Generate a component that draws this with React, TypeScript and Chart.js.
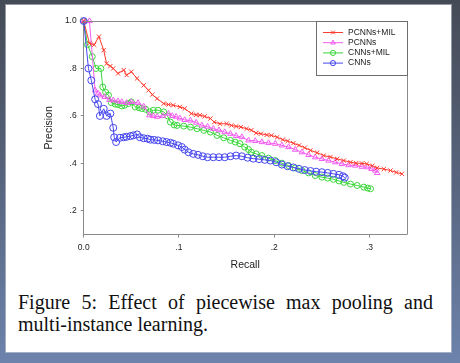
import React, { useEffect, useRef } from 'react';
import { Chart, registerables } from 'chart.js';

Chart.register(...registerables);

// ---------- data ----------
const seriesNames = ['PCNNs+MIL', 'PCNNs', 'CNNs+MIL', 'CNNs'];

const pcnnsMilRecall = [0, 0.006, 0.011, 0.016, 0.021, 0.024, 0.028, 0.031, 0.036, 0.042, 0.045, 0.05, 0.056, 0.063, 0.068, 0.072, 0.077, 0.084, 0.089, 0.094, 0.101, 0.106, 0.113, 0.118, 0.122, 0.127, 0.133, 0.137, 0.143, 0.15, 0.155, 0.16, 0.165, 0.171, 0.176, 0.181, 0.186, 0.192, 0.197, 0.203, 0.209, 0.214, 0.22, 0.226, 0.232, 0.238, 0.245, 0.252, 0.259, 0.266, 0.273, 0.28, 0.286, 0.292, 0.297, 0.303, 0.308, 0.315, 0.322, 0.328, 0.334];
const pcnnsMilPrecision = [1.0, 0.906, 0.9, 0.934, 0.877, 0.82, 0.81, 0.8, 0.779, 0.793, 0.772, 0.786, 0.758, 0.729, 0.708, 0.69, 0.673, 0.652, 0.648, 0.645, 0.638, 0.631, 0.61, 0.605, 0.603, 0.598, 0.589, 0.574, 0.567, 0.567, 0.56, 0.556, 0.553, 0.546, 0.54, 0.528, 0.525, 0.52, 0.518, 0.51, 0.5, 0.494, 0.485, 0.476, 0.466, 0.455, 0.445, 0.433, 0.427, 0.419, 0.412, 0.405, 0.401, 0.4, 0.398, 0.39, 0.381, 0.376, 0.37, 0.362, 0.356];

const pcnnsRecall = [0, 0.006, 0.012, 0.015, 0.017, 0.022, 0.027, 0.031, 0.036, 0.04, 0.045, 0.05, 0.057, 0.063, 0.069, 0.073, 0.077, 0.083, 0.089, 0.093, 0.097, 0.101, 0.106, 0.112, 0.118, 0.124, 0.13, 0.136, 0.142, 0.148, 0.154, 0.16, 0.166, 0.173, 0.18, 0.187, 0.194, 0.201, 0.208, 0.215, 0.222, 0.229, 0.236, 0.243, 0.25, 0.257, 0.264, 0.271, 0.278, 0.285, 0.292, 0.298, 0.302, 0.306, 0.308];
const pcnnsPrecision = [1.0, 1.0, 0.708, 0.695, 0.687, 0.68, 0.668, 0.666, 0.662, 0.659, 0.655, 0.659, 0.655, 0.64, 0.603, 0.6, 0.597, 0.6, 0.61, 0.6, 0.597, 0.59, 0.583, 0.581, 0.572, 0.56, 0.555, 0.546, 0.54, 0.532, 0.525, 0.516, 0.511, 0.497, 0.495, 0.49, 0.486, 0.483, 0.476, 0.469, 0.458, 0.447, 0.436, 0.426, 0.419, 0.412, 0.405, 0.398, 0.393, 0.391, 0.386, 0.384, 0.377, 0.37, 0.36];

const cnnsMilRecall = [0, 0.004, 0.009, 0.013, 0.018, 0.02, 0.023, 0.026, 0.029, 0.033, 0.036, 0.04, 0.043, 0.047, 0.05, 0.054, 0.058, 0.061, 0.065, 0.069, 0.073, 0.078, 0.084, 0.088, 0.091, 0.095, 0.098, 0.105, 0.112, 0.119, 0.126, 0.133, 0.14, 0.147, 0.154, 0.159, 0.164, 0.169, 0.173, 0.176, 0.181, 0.187, 0.194, 0.201, 0.208, 0.215, 0.222, 0.229, 0.236, 0.243, 0.25, 0.256, 0.262, 0.268, 0.273, 0.28, 0.287, 0.294, 0.298, 0.301];
const cnnsMilPrecision = [1.0, 0.9, 0.85, 0.8, 0.8, 0.722, 0.7, 0.687, 0.656, 0.65, 0.648, 0.642, 0.645, 0.652, 0.659, 0.638, 0.635, 0.631, 0.628, 0.617, 0.624, 0.624, 0.617, 0.6, 0.574, 0.562, 0.56, 0.557, 0.553, 0.546, 0.539, 0.532, 0.518, 0.508, 0.497, 0.49, 0.483, 0.469, 0.458, 0.447, 0.44, 0.433, 0.422, 0.412, 0.401, 0.391, 0.381, 0.37, 0.36, 0.349, 0.342, 0.338, 0.333, 0.326, 0.32, 0.313, 0.307, 0.3, 0.296, 0.293];

const cnnsRecall = [0, 0.005, 0.008, 0.012, 0.015, 0.017, 0.021, 0.024, 0.028, 0.031, 0.032, 0.034, 0.038, 0.042, 0.045, 0.049, 0.052, 0.056, 0.059, 0.063, 0.067, 0.07, 0.074, 0.078, 0.083, 0.087, 0.091, 0.094, 0.099, 0.103, 0.106, 0.11, 0.115, 0.12, 0.125, 0.13, 0.136, 0.142, 0.148, 0.154, 0.16, 0.166, 0.172, 0.178, 0.184, 0.19, 0.196, 0.202, 0.208, 0.214, 0.22, 0.226, 0.232, 0.238, 0.244, 0.25, 0.256, 0.262, 0.268, 0.272, 0.274];
const cnnsPrecision = [1.0, 0.8, 0.75, 0.67, 0.65, 0.6, 0.63, 0.6, 0.61, 0.55, 0.51, 0.49, 0.508, 0.51, 0.512, 0.515, 0.518, 0.522, 0.51, 0.506, 0.504, 0.5, 0.499, 0.497, 0.493, 0.49, 0.487, 0.483, 0.476, 0.469, 0.458, 0.447, 0.44, 0.436, 0.43, 0.426, 0.426, 0.426, 0.426, 0.43, 0.433, 0.43, 0.424, 0.42, 0.418, 0.415, 0.412, 0.405, 0.395, 0.388, 0.383, 0.377, 0.372, 0.368, 0.365, 0.363, 0.36, 0.356, 0.352, 0.346, 0.34];

const xTickValues = [0, 0.1, 0.2, 0.3];
const xTickLabels = ['0.0', '.1', '.2', '.3'];
const yTickValues = [0.2, 0.4, 0.6, 0.8, 1.0];
const yTickLabels = ['.2', '.4', '.6', '.8', '1.0'];

const xTitle = 'Recall';
const yTitle = 'Precision';
const captionText = 'Figure 5: Effect of piecewise max pooling and multi-instance learning.';

// ---------- styles ----------
const colors = ['#ff3a2e', '#f25cf0', '#3ad63a', '#4646ee'];
const pointStyles = ['crossRot', 'triangle', 'circle', 'circle'];
const pointRadii = [3, 3.2, 3, 3.5];
const axisColor = '#8a8a8a';
const textColor = '#222';
const sansFont = "'Liberation Sans', Arial, sans-serif";

function drawMarker(ctx: CanvasRenderingContext2D, style: string, x: number, y: number, r: number) {
  ctx.beginPath();
  if (style === 'circle') {
    ctx.arc(x, y, r, 0, Math.PI * 2);
  } else if (style === 'triangle') {
    ctx.moveTo(x, y - r);
    ctx.lineTo(x - r * 0.866, y + r * 0.5);
    ctx.lineTo(x + r * 0.866, y + r * 0.5);
    ctx.closePath();
  } else {
    const d = r * 0.707;
    ctx.moveTo(x - d, y - d);
    ctx.lineTo(x + d, y + d);
    ctx.moveTo(x + d, y - d);
    ctx.lineTo(x - d, y + d);
  }
  ctx.stroke();
}

const framePlugin = {
  id: 'frameAndLegend',
  afterDraw(chart: any) {
    const { ctx, chartArea } = chart;
    const { left, right, top, bottom } = chartArea;
    ctx.save();
    ctx.strokeStyle = axisColor;
    ctx.lineWidth = 1;
    ctx.beginPath();
    ctx.moveTo(left, Math.round(top) + 0.5);
    ctx.lineTo(right, Math.round(top) + 0.5);
    ctx.moveTo(Math.round(right) + 0.5, top);
    ctx.lineTo(Math.round(right) + 0.5, bottom);
    ctx.stroke();

    // legend box
    const bw = 91;
    const bh = 54;
    const bx = Math.round(right) - bw;
    const by = Math.round(top);
    ctx.fillStyle = '#ffffff';
    ctx.fillRect(bx, by, bw, bh);
    ctx.strokeStyle = '#6e6e6e';
    ctx.strokeRect(bx + 0.5, by + 0.5, bw, bh);

    ctx.font = `8.5px ${sansFont}`;
    ctx.textBaseline = 'middle';
    ctx.textAlign = 'left';
    chart.data.datasets.forEach((ds: any, i: number) => {
      const y = by + 11.5 + i * 10.2;
      ctx.strokeStyle = colors[i];
      ctx.lineWidth = 1;
      ctx.beginPath();
      ctx.moveTo(bx + 7, y);
      ctx.lineTo(bx + 27, y);
      ctx.stroke();
      drawMarker(ctx, pointStyles[i], bx + 17, y, 2.6);
      ctx.fillStyle = textColor;
      ctx.fillText(ds.label, bx + 32, y);
    });
    ctx.restore();
  },
};

function labelFor(values: number[], labels: string[], v: number) {
  const idx = values.findIndex((t) => Math.abs(t - v) < 1e-6);
  return idx >= 0 ? labels[idx] : '';
}

export default function App() {
  const canvasRef = useRef<HTMLCanvasElement | null>(null);

  useEffect(() => {
    const canvas = canvasRef.current;
    if (!canvas) return;
    const recalls = [pcnnsMilRecall, pcnnsRecall, cnnsMilRecall, cnnsRecall];
    const precisions = [pcnnsMilPrecision, pcnnsPrecision, cnnsMilPrecision, cnnsPrecision];
    const datasets = seriesNames.map((name, i) => ({
      label: name,
      data: recalls[i].map((x, j) => ({ x, y: precisions[i][j] })),
      borderColor: colors[i],
      backgroundColor: 'rgba(255,255,255,0)',
      borderWidth: 1,
      pointStyle: pointStyles[i],
      pointRadius: pointRadii[i],
      pointBorderWidth: 1,
      pointBorderColor: colors[i],
      pointBackgroundColor: 'rgba(255,255,255,0)',
      tension: 0,
      fill: false,
      clip: 6,
      order: i === 3 ? -1 : i,
    }));

    const chart = new Chart(canvas, {
      type: 'line',
      data: { datasets },
      plugins: [framePlugin],
      options: {
        animation: false,
        responsive: false,
        maintainAspectRatio: false,
        devicePixelRatio: 1,
        layout: { padding: { left: 40, top: 21, right: 53.3, bottom: 5.4 } },
        plugins: {
          legend: { display: false },
          tooltip: { enabled: false },
        },
        scales: {
          x: {
            type: 'linear',
            min: 0,
            max: 0.339,
            afterBuildTicks: (axis: any) => {
              axis.ticks = xTickValues.map((v) => ({ value: v }));
            },
            afterFit: (axis: any) => {
              axis.height = 40;
            },
            ticks: {
              autoSkip: false,
              maxRotation: 0,
              padding: 5,
              color: textColor,
              font: { family: sansFont, size: 8.5 },
              callback: (v: any) => labelFor(xTickValues, xTickLabels, Number(v)),
            },
            grid: { drawOnChartArea: false, drawTicks: true, tickLength: 3, color: axisColor },
            border: { display: true, color: axisColor, width: 1 },
            title: {
              display: true,
              text: xTitle,
              color: textColor,
              font: { family: sansFont, size: 10.5 },
              padding: { top: 0, bottom: 2.8 },
            },
          },
          y: {
            type: 'linear',
            min: 0.1,
            max: 1.0,
            afterBuildTicks: (axis: any) => {
              axis.ticks = yTickValues.map((v) => ({ value: v }));
            },
            afterFit: (axis: any) => {
              axis.width = 43.7;
            },
            ticks: {
              autoSkip: false,
              padding: 4,
              color: textColor,
              font: { family: sansFont, size: 8.5 },
              callback: (v: any) => labelFor(yTickValues, yTickLabels, Number(v)),
            },
            grid: { drawOnChartArea: false, drawTicks: true, tickLength: 3, color: axisColor },
            border: { display: true, color: axisColor, width: 1 },
            title: {
              display: true,
              text: yTitle,
              color: textColor,
              font: { family: sansFont, size: 10.5 },
              padding: { top: 3, bottom: 0 },
            },
          },
        },
      } as any,
    });
    return () => chart.destroy();
  }, []);

  return (
    <div
      style={{
        position: 'fixed',
        left: 0,
        top: 0,
        width: 460,
        height: 363,
        overflow: 'hidden',
        background: 'linear-gradient(to bottom, #454b56 0%, #56627a 45%, #6d83ac 100%)',
      }}
    >
      <div
        style={{
          position: 'absolute',
          left: 6,
          top: 5,
          width: 445,
          height: 347,
          background: '#ffffff',
          boxShadow: '0 0 0 1px rgba(200,205,215,0.6)',
        }}
      />
      <canvas
        ref={canvasRef}
        width={460}
        height={280}
        style={{ position: 'absolute', left: 0, top: 0, width: 460, height: 280 }}
      />
      <div
        style={{
          position: 'absolute',
          left: 18,
          top: 292,
          width: 415,
          fontFamily: "'Liberation Serif', 'Times New Roman', serif",
          fontSize: 20,
          lineHeight: '21.7px',
          textAlign: 'justify',
          color: '#111',
        }}
      >
        {captionText}
      </div>
    </div>
  );
}
